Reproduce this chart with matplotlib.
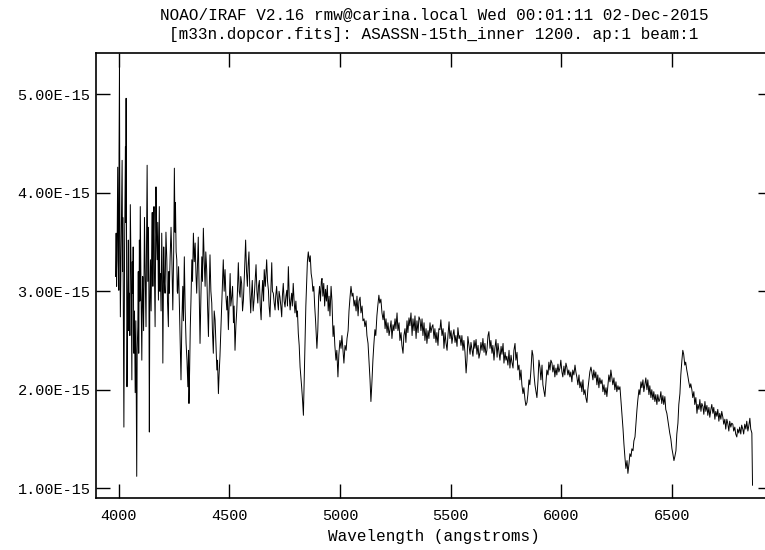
import matplotlib
matplotlib.use('Agg')
import matplotlib.pyplot as plt
from matplotlib.ticker import FuncFormatter

# titles
title1 = 'NOAO/IRAF V2.16 rmw@carina.local Wed 00:01:11 02-Dec-2015'
title2 = '[m33n.dopcor.fits]: ASASSN-15th_inner 1200. ap:1 beam:1'
xlabel = 'Wavelength (angstroms)'

# blue part of the spectrum (angstroms, flux in 1E-15)
wave_blue = [3986, 3988, 3989, 3991, 3993, 3995, 3996, 3999, 4001, 4002,
             4004, 4006, 4008, 4012, 4016, 4018, 4019, 4021, 4024, 4027,
             4031, 4032, 4034, 4036, 4038, 4041, 4044, 4046, 4049, 4051,
             4053, 4057, 4060, 4062, 4064, 4066, 4069, 4072, 4075, 4078,
             4082, 4084, 4087, 4089, 4091, 4094, 4096, 4098, 4101, 4105,
             4107, 4109, 4113, 4117, 4120, 4124, 4126, 4129, 4132, 4135,
             4137, 4139, 4141, 4144, 4147, 4150, 4152, 4155, 4157, 4160,
             4162, 4165, 4167, 4169, 4171, 4174, 4177, 4180, 4182, 4184,
             4186, 4189, 4192, 4195, 4198, 4200, 4202, 4204, 4207, 4210,
             4214, 4218, 4221, 4225, 4227, 4229, 4233, 4237, 4241, 4245,
             4249, 4252, 4255, 4257, 4260, 4263, 4265, 4267, 4271, 4275,
             4278, 4282, 4286, 4290, 4293, 4297, 4301, 4305, 4309, 4313,
             4316, 4318, 4321, 4324, 4327, 4331, 4334, 4338, 4342, 4346,
             4350, 4353, 4357, 4360, 4364, 4368, 4372, 4376, 4379, 4383,
             4387, 4391, 4394, 4398, 4402, 4406, 4409, 4413, 4417, 4421,
             4424, 4428, 4432, 4436, 4440, 4444, 4447, 4451, 4454, 4458,
             4462, 4466, 4469, 4473, 4477, 4481, 4485, 4489, 4492, 4496,
             4500, 4504, 4507, 4511, 4515, 4519, 4522, 4526, 4530, 4534,
             4537, 4541, 4545, 4549, 4552, 4556, 4560, 4564, 4569, 4574,
             4578, 4582, 4585, 4589, 4593, 4597, 4600, 4604, 4608, 4612,
             4617, 4621, 4625, 4629, 4632, 4636, 4640, 4644, 4647, 4651,
             4655, 4658, 4663, 4669, 4673, 4677, 4680, 4684, 4688, 4692,
             4695, 4699, 4703, 4707, 4710, 4714, 4718, 4722, 4725, 4729,
             4733, 4737, 4740, 4744, 4748, 4752, 4756, 4760, 4763, 4767,
             4771, 4775, 4778, 4782, 4785, 4789, 4793, 4797, 4801, 4805,
             4808, 4812, 4816, 4820, 4823, 4827, 4831, 4835, 4838, 4842,
             4846, 4850, 4853, 4857]
flux_blue = [3.15, 3.40, 3.59, 3.05, 3.32, 3.90, 4.26, 3.30, 3.01, 4.40,
             5.28, 3.60, 2.74, 3.50, 4.33, 3.20, 3.75, 3.05, 1.62, 3.40,
             4.47, 3.70, 4.96, 3.40, 2.03, 2.90, 3.52, 2.60, 2.98, 2.55,
             3.88, 3.10, 2.10, 3.30, 2.98, 3.45, 2.37, 2.80, 1.97, 2.70,
             1.12, 2.40, 2.64, 3.20, 2.37, 3.52, 2.90, 3.86, 3.10, 2.30,
             2.90, 3.15, 2.60, 3.75, 3.20, 2.64, 3.40, 4.28, 3.10, 3.65,
             3.00, 1.57, 2.80, 3.32, 2.80, 3.52, 3.80, 3.05, 3.50, 3.86,
             3.20, 2.64, 3.30, 4.06, 3.60, 3.32, 3.70, 2.91, 3.40, 3.86,
             3.00, 3.18, 2.80, 3.59, 3.10, 2.27, 2.90, 3.45, 3.10, 2.98,
             3.60, 3.32, 2.90, 2.64, 3.20, 2.98, 3.35, 3.65, 3.30, 2.81,
             3.40, 4.25, 3.60, 3.90, 3.40, 3.32, 3.00, 2.98, 3.25, 2.84,
             2.50, 2.10, 2.70, 3.05, 2.70, 3.35, 2.80, 2.47, 2.30, 2.03,
             2.40, 1.86, 2.20, 2.64, 2.90, 3.32, 3.10, 3.59, 3.30, 3.49,
             3.15, 2.98, 3.30, 3.55, 3.00, 2.47, 2.95, 3.35, 3.10, 3.64,
             3.30, 3.05, 3.40, 3.22, 2.85, 2.54, 2.95, 3.37, 3.00, 2.88,
             2.60, 2.37, 2.80, 2.71, 2.45, 2.20, 2.30, 1.96, 2.15, 2.34,
             2.60, 2.88, 3.05, 3.32, 3.00, 3.22, 2.95, 2.81, 2.95, 2.61,
             2.90, 3.18, 2.85, 2.94, 3.05, 2.68, 2.85, 2.40, 2.65, 2.81,
             3.00, 3.29, 3.00, 2.94, 3.15, 3.08, 2.80, 2.91, 3.20, 3.52,
             3.20, 3.05, 3.25, 3.40, 3.00, 2.78, 2.95, 3.11, 2.80, 2.91,
             3.10, 3.27, 3.00, 2.88, 3.05, 3.11, 2.85, 2.71, 2.95, 3.11,
             2.90, 3.22, 3.05, 3.32, 3.10, 3.01, 2.85, 2.74, 3.00, 3.29,
             3.00, 2.98, 2.88, 2.81, 2.95, 3.05, 2.90, 2.81, 3.00, 2.94,
             2.85, 2.74, 2.95, 3.08, 2.90, 2.84, 2.95, 3.01, 2.85, 3.25,
             2.95, 2.81, 2.90, 2.98, 2.85, 3.08, 2.90, 2.78, 2.90, 2.74,
             2.80, 2.57, 2.45, 2.23, 2.15, 2.03, 1.90, 1.74, 2.05, 2.47,
             2.85, 3.11, 3.30, 3.40]

# middle part
wave_mid = [4862, 4866, 4870, 4874, 4878, 4882, 4886, 4890, 4893, 4896, 4900, 4904, 4908, 4912, 4916,
            4919, 4923, 4927, 4931, 4935, 4939, 4943, 4947, 4951, 4955, 4960, 4964, 4969, 4973, 4977,
            4982, 4986, 4991, 4995, 5000, 5005, 5009, 5014, 5018, 5023, 5028, 5032, 5037, 5041, 5046,
            5050, 5055, 5059, 5064, 5068, 5073, 5077, 5082, 5086, 5091, 5095, 5100, 5104, 5109, 5113,
            5118, 5122, 5127, 5131, 5136, 5140, 5144, 5149, 5153, 5158, 5162, 5167, 5171, 5176, 5180,
            5185, 5190, 5195, 5199, 5204, 5208, 5213, 5217, 5222, 5226, 5231, 5235, 5240, 5244, 5249,
            5253, 5258, 5262, 5267, 5271, 5276, 5280, 5285, 5289, 5294, 5298, 5303, 5307, 5312, 5316,
            5321, 5326, 5330, 5335, 5339, 5344, 5348, 5353, 5357, 5362, 5366, 5371, 5375, 5380, 5384,
            5389, 5393, 5398, 5402, 5407, 5411, 5416, 5420, 5425, 5429, 5434, 5438, 5443, 5447, 5452,
            5456, 5461, 5466, 5470, 5475, 5479, 5484, 5488, 5493, 5497, 5502, 5506, 5511, 5515, 5520,
            5524, 5529, 5533, 5538, 5542, 5547, 5551, 5556, 5560, 5565, 5570, 5574, 5578, 5583, 5588,
            5592, 5597, 5601, 5606, 5610, 5615, 5619, 5624, 5628, 5633, 5637, 5642, 5646, 5651, 5655,
            5660, 5664, 5669, 5673, 5678, 5682, 5687, 5691, 5696, 5700, 5705, 5710, 5714, 5719, 5723,
            5728, 5732, 5737, 5741, 5746, 5750, 5754, 5759, 5764, 5768, 5773, 5777, 5782, 5786, 5791,
            5795, 5800]
flux_mid = [3.30, 3.36, 3.18, 3.12, 3.00, 3.05, 2.85, 2.70, 2.55, 2.42, 2.60, 2.95, 3.05, 2.90, 3.10,
            3.13, 2.95, 3.08, 2.85, 3.02, 2.90, 3.06, 2.80, 2.95, 2.75, 3.05, 2.90, 2.54, 2.65, 2.45,
            2.30, 2.40, 2.13, 2.35, 2.50, 2.42, 2.55, 2.40, 2.27, 2.45, 2.40, 2.52, 2.60, 2.80, 2.95,
            3.05, 2.95, 2.98, 2.85, 2.91, 2.80, 2.95, 2.75, 2.90, 2.94, 2.78, 2.85, 2.70, 2.72, 2.64,
            2.70, 2.55, 2.47, 2.30, 2.10, 1.88, 2.05, 2.30, 2.45, 2.61, 2.55, 2.75, 2.85, 2.96, 2.88,
            2.92, 2.78, 2.71, 2.80, 2.62, 2.72, 2.58, 2.68, 2.55, 2.61, 2.70, 2.52, 2.66, 2.60, 2.72,
            2.62, 2.78, 2.60, 2.68, 2.50, 2.58, 2.45, 2.37, 2.55, 2.62, 2.48, 2.70, 2.58, 2.73, 2.65,
            2.78, 2.55, 2.72, 2.60, 2.75, 2.52, 2.70, 2.58, 2.74, 2.71, 2.60, 2.72, 2.55, 2.68, 2.50,
            2.62, 2.47, 2.60, 2.52, 2.68, 2.58, 2.64, 2.66, 2.52, 2.62, 2.48, 2.58, 2.45, 2.62, 2.61,
            2.71, 2.55, 2.62, 2.42, 2.58, 2.48, 2.40, 2.55, 2.69, 2.52, 2.60, 2.47, 2.56, 2.61, 2.48,
            2.55, 2.44, 2.63, 2.52, 2.55, 2.45, 2.55, 2.40, 2.50, 2.38, 2.17, 2.30, 2.54, 2.45, 2.36,
            2.48, 2.40, 2.34, 2.50, 2.42, 2.51, 2.36, 2.45, 2.32, 2.38, 2.48, 2.40, 2.52, 2.38, 2.47,
            2.35, 2.40, 2.55, 2.59, 2.42, 2.50, 2.37, 2.45, 2.30, 2.42, 2.51, 2.33, 2.47, 2.38, 2.30,
            2.44, 2.36, 2.47, 2.27, 2.38, 2.30, 2.34, 2.25, 2.40, 2.22, 2.35, 2.28, 2.22, 2.40, 2.47,
            2.30, 2.38]

# red part
wave_red = [5804, 5809, 5813, 5818, 5822, 5827, 5831, 5836, 5840, 5845, 5849, 5854, 5858, 5863, 5868,
            5872, 5877, 5881, 5886, 5890, 5895, 5899, 5904, 5908, 5913, 5917, 5922, 5926, 5931, 5935,
            5940, 5944, 5949, 5953, 5958, 5962, 5967, 5971, 5976, 5980, 5985, 5989, 5994, 5998, 6003,
            6007, 6012, 6016, 6021, 6025, 6030, 6034, 6039, 6043, 6048, 6052, 6057, 6062, 6066, 6071,
            6075, 6080, 6084, 6089, 6093, 6098, 6102, 6107, 6111, 6116, 6120, 6125, 6129, 6134, 6138,
            6143, 6147, 6152, 6156, 6161, 6165, 6170, 6174, 6179, 6184, 6188, 6193, 6197, 6202, 6206,
            6211, 6215, 6220, 6224, 6229, 6233, 6238, 6242, 6247, 6251, 6256, 6260, 6265, 6270, 6274,
            6279, 6283, 6288, 6292, 6297, 6301, 6306, 6310, 6315, 6319, 6324, 6328, 6333, 6337, 6342,
            6346, 6351, 6355, 6360, 6364, 6369, 6373, 6378, 6382, 6387, 6391, 6396, 6400, 6405, 6409,
            6414, 6418, 6423, 6427, 6432, 6436, 6441, 6445, 6450, 6454, 6459, 6463, 6468, 6472, 6477,
            6481, 6486, 6490, 6495, 6500, 6504, 6509, 6513, 6518, 6522, 6527, 6531, 6536, 6540, 6545,
            6549, 6553, 6558, 6562, 6567, 6571, 6576, 6581, 6585, 6590, 6594, 6599, 6603, 6608, 6613,
            6617, 6622, 6626, 6631, 6635, 6640, 6644, 6649, 6653, 6658, 6662, 6667, 6671, 6676, 6680,
            6685, 6689, 6694, 6698, 6703, 6707, 6712, 6716, 6721, 6725, 6730, 6734, 6739, 6743, 6748,
            6752, 6757, 6761, 6766, 6770, 6775, 6779, 6784, 6788, 6793, 6797, 6802, 6806, 6811, 6815,
            6820, 6824, 6829, 6834, 6838, 6843, 6847, 6852, 6856, 6861, 6864]
flux_red = [2.20, 2.25, 2.10, 2.20, 2.05, 1.96, 2.02, 1.90, 1.84, 1.87, 1.95, 2.10, 2.05, 2.20, 2.40,
            2.35, 2.15, 2.05, 1.98, 1.92, 2.10, 2.30, 2.22, 2.10, 2.25, 2.05, 1.98, 1.93, 2.08, 2.20,
            2.15, 2.28, 2.20, 2.30, 2.27, 2.18, 2.25, 2.13, 2.22, 2.15, 2.26, 2.18, 2.22, 2.30, 2.18,
            2.13, 2.24, 2.15, 2.27, 2.23, 2.15, 2.20, 2.13, 2.18, 2.08, 2.20, 2.15, 2.25, 2.18, 2.12,
            2.05, 2.15, 2.02, 2.08, 1.98, 2.10, 1.95, 2.00, 1.92, 1.87, 2.00, 2.10, 2.18, 2.23, 2.18,
            2.10, 2.20, 2.12, 2.18, 2.05, 2.15, 2.02, 2.12, 2.06, 2.10, 1.98, 2.05, 1.95, 2.02, 1.93,
            2.05, 2.15, 2.08, 2.20, 2.12, 2.05, 2.12, 2.00, 2.08, 1.98, 2.04, 2.00, 2.03, 1.88, 1.76,
            1.60, 1.45, 1.30, 1.20, 1.28, 1.15, 1.25, 1.35, 1.32, 1.40, 1.38, 1.48, 1.52, 1.65, 1.80,
            1.90, 2.00, 1.95, 2.08, 2.02, 2.10, 1.98, 2.06, 2.12, 2.00, 2.10, 1.95, 2.04, 1.92, 2.00,
            1.90, 1.98, 1.88, 1.95, 1.85, 1.95, 1.88, 1.90, 1.98, 1.86, 1.94, 1.85, 1.93, 1.80, 1.76,
            1.70, 1.62, 1.56, 1.50, 1.40, 1.35, 1.28, 1.32, 1.38, 1.55, 1.66, 1.85, 1.96, 2.15, 2.30,
            2.40, 2.36, 2.25, 2.28, 2.20, 2.15, 2.08, 2.02, 2.06, 2.00, 1.92, 1.98, 1.85, 1.92, 1.76,
            1.85, 1.80, 1.90, 1.78, 1.86, 1.83, 1.75, 1.88, 1.78, 1.84, 1.74, 1.82, 1.72, 1.80, 1.85,
            1.76, 1.82, 1.70, 1.78, 1.73, 1.80, 1.68, 1.76, 1.70, 1.78, 1.72, 1.65, 1.70, 1.60, 1.70,
            1.66, 1.58, 1.68, 1.62, 1.66, 1.65, 1.58, 1.62, 1.55, 1.52, 1.60, 1.56, 1.62, 1.55, 1.64,
            1.60, 1.55, 1.65, 1.60, 1.68, 1.58, 1.63, 1.71, 1.60, 1.56, 1.03]

x_ticks = [4000, 4500, 5000, 5500, 6000, 6500]
y_ticks = [1e-15, 2e-15, 3e-15, 4e-15, 5e-15]

wave = wave_blue + wave_mid + wave_red
flux = [f * 1e-15 for f in flux_blue + flux_mid + flux_red]

plt.rcParams['font.family'] = ['Liberation Mono', 'DejaVu Sans Mono']

fig = plt.figure(figsize=(7.65, 5.5), dpi=100)
# the plot box runs a little past the right edge of the picture
ax = fig.add_axes([96 / 765, 52 / 550, 676 / 765, 445 / 550])
ax.plot(wave, flux, color='black', linewidth=0.7)

ax.set_xlim(3898, 6952)
ax.set_ylim(0.90e-15, 5.42e-15)
ax.set_xticks(x_ticks)
ax.set_yticks(y_ticks)
ax.yaxis.set_major_formatter(FuncFormatter(lambda v, p: '%.2E' % v))
ax.tick_params(direction='in', length=10, width=1, top=True, right=True,
               labelsize=11, colors='black')
ax.tick_params(axis='x', pad=8)
ax.tick_params(axis='y', pad=4)
for s in ax.spines.values():
    s.set_linewidth(1.2)

ax.set_xlabel(xlabel, fontsize=11.5, labelpad=4)
fig.text(434 / 765, 1 - 15 / 550, title1, ha='center', va='center', fontsize=11.5)
fig.text(434 / 765, 1 - 35 / 550, title2, ha='center', va='center', fontsize=11.5)

fig.savefig('out.png', dpi=100)
